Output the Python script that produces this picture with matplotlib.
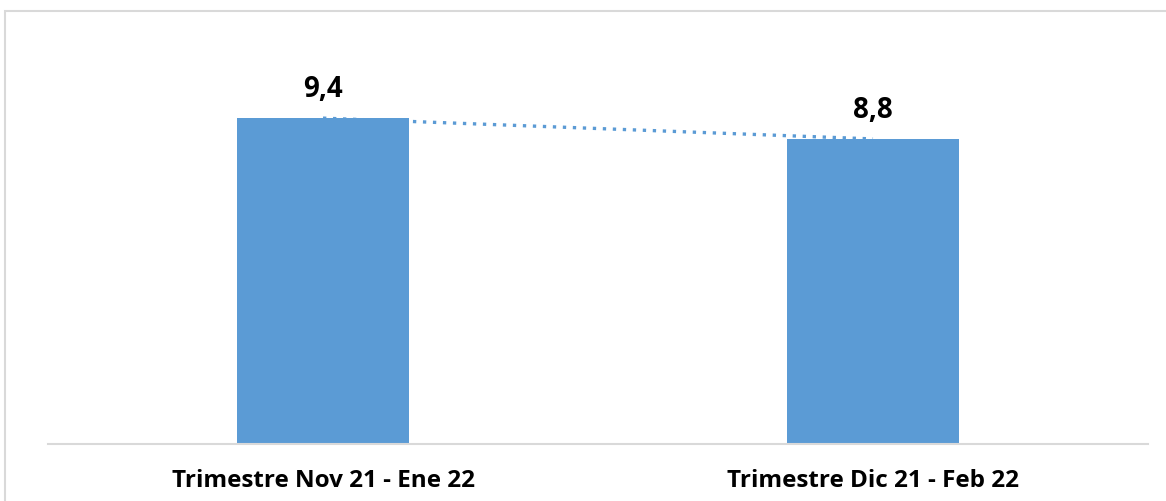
import matplotlib.pyplot as plt
from matplotlib.patches import Rectangle

# Datos
categorias = ["Trimestre Nov 21 - Ene 22", "Trimestre Dic 21 - Feb 22"]
valores = [9.4, 8.8]
etiquetas = ["9,4", "8,8"]

plt.rcParams["font.family"] = ["Open Sans", "DejaVu Sans"]

color_barra = "#5B9BD5"
W, H = 1166, 502

fig = plt.figure(figsize=(W / 100, H / 100), dpi=100)
ax = fig.add_axes([48 / W, 1 - 445 / H, 1100 / W, 416 / H])

x = range(len(categorias))
ax.bar(x, valores, width=0.314, color=color_barra, zorder=2)

# Linea de tendencia punteada entre las barras
ax.plot(x, valores, linestyle=(0, (1, 2.0)), color=color_barra, linewidth=2.4, zorder=3)

for xi, v, t in zip(x, valores, etiquetas):
    ax.annotate(t, xy=(xi, v), xytext=(0, 11), textcoords="offset points",
                ha="center", va="bottom", fontsize=20, fontweight="bold", color="black")

ax.set_xlim(-0.5, 1.5)
ax.set_ylim(0, 12)
ax.set_yticks([])
ax.set_xticks(list(x))
ax.set_xticklabels(categorias, fontsize=17.5, fontweight="bold")
ax.tick_params(axis="x", length=0, pad=17)
for s in ["top", "right", "left"]:
    ax.spines[s].set_visible(False)
ax.spines["bottom"].set_color("#D9D9D9")
ax.spines["bottom"].set_linewidth(1.5)

# Borde del grafico
fig.patches.append(Rectangle((5 / W, -0.1), 1.2, 1 - 12 / H + 0.1, transform=fig.transFigure,
                             fill=False, edgecolor="#D9D9D9", linewidth=1.5))

fig.savefig("out.png", dpi=100)
